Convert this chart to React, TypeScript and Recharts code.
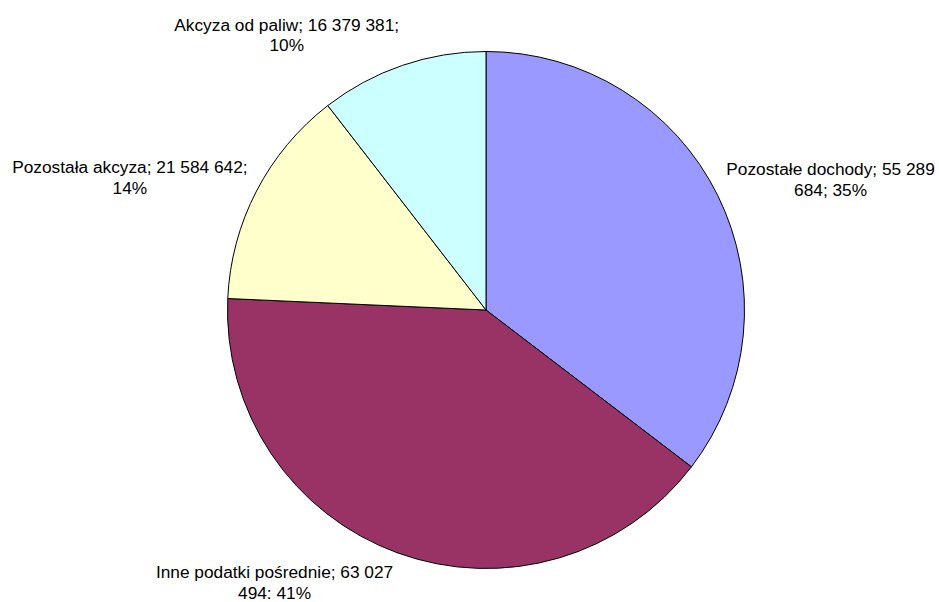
import { PieChart, Pie, Cell } from "recharts";

// Struktura dochodów (tys. zł)
const categories = [
  "Pozostałe dochody",
  "Inne podatki pośrednie",
  "Pozostała akcyza",
  "Akcyza od paliw",
];
const values = [55289684, 63027494, 21584642, 16379381];
const labelLines = [
  ["Pozostałe dochody; 55 289", "684; 35%"],
  ["Inne podatki pośrednie; 63 027", "494: 41%"],
  ["Pozostała akcyza; 21 584 642;", "14%"],
  ["Akcyza od paliw; 16 379 381;", "10%"],
];

const COLORS = ["#9999FF", "#993366", "#FFFFCC", "#CCFFFF"];

// label nudges from the radial anchor point, per slice
const LABEL_NUDGE = [
  { dx: 86, dy: -7 },
  { dx: -113, dy: -3 },
  { dx: -100, dy: -4 },
  { dx: -106, dy: -6 },
];

const RAD = Math.PI / 180;
const FONT = "Arial, 'Liberation Sans', sans-serif";

const data = categories.map((name, i) => ({ name, value: values[i] }));

// eslint-disable-next-line @typescript-eslint/no-explicit-any
function renderLabel(props: any) {
  const { cx, cy, midAngle, outerRadius, index } = props;
  const r = outerRadius + 30;
  const x = cx + r * Math.cos(-midAngle * RAD) + LABEL_NUDGE[index].dx;
  const y = cy + r * Math.sin(-midAngle * RAD) + LABEL_NUDGE[index].dy;
  return (
    <text
      x={x}
      y={y}
      textAnchor="middle"
      fill="#000"
      fontSize={17.3}
      fontFamily={FONT}
    >
      {labelLines[index].map((line, k) => (
        <tspan key={k} x={x} dy={k === 0 ? 0 : 20.5}>
          {line}
        </tspan>
      ))}
    </text>
  );
}

export default function App() {
  return (
    <div style={{ position: "absolute", left: 0, top: 0, background: "#fff" }}>
      <PieChart width={939} height={602} margin={{ top: 0, right: 0, bottom: 0, left: 0 }}>
        <Pie
          data={data}
          dataKey="value"
          nameKey="name"
          cx={486}
          cy={310}
          outerRadius={258.5}
          startAngle={90}
          endAngle={-270}
          stroke="#000"
          strokeWidth={1}
          label={renderLabel}
          labelLine={false}
          isAnimationActive={false}
        >
          {data.map((d, i) => (
            <Cell key={d.name} fill={COLORS[i]} />
          ))}
        </Pie>
      </PieChart>
    </div>
  );
}
